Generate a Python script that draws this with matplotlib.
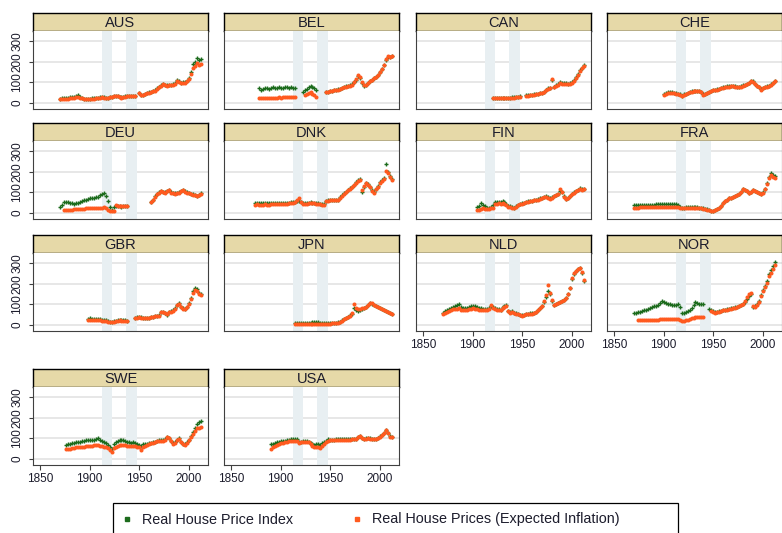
import numpy as np
import matplotlib
matplotlib.use("Agg")
import matplotlib.pyplot as plt
from matplotlib.lines import Line2D
from matplotlib.patches import Rectangle

plt.rcParams['font.family'] = ['Liberation Sans', 'DejaVu Sans']

N = None
# ---------------- data (sampled every 2 years) ----------------
AUS_start = 1870
AUS_green = [20, 22, 22, 24, 25, 27, 28, 30, 33, 36, 30, 24, 20, 20, 20,
             21, 22, 23, 25, 26, 28, 30, 28, 25, 26, 28, 30, 33, 35, 34,
             30, 27, 29, 31, 33, 34, 34, 34, 34, N, 46, 38, 40, 44, 48,
             52, 55, 58, 62, 70, 78, 85, 92, 88, 86, 88, 88, 90, 96, 112,
             104, 98, 100, 100, 108, 122, 152, 188, 200, 218, 208, 212]
AUS_orange = [18, 18, 19, 20, 20, 22, 23, 25, 28, 30, 26, 22, 18, 18, 18,
              19, 20, 21, 22, 23, 25, 27, 26, 24, 25, 27, 29, 31, 33, 32,
              29, 26, 28, 30, 31, 32, 32, 33, 33, N, 46, 37, 39, 43, 46,
              50, 53, 56, 60, 68, 76, 83, 90, 86, 84, 86, 86, 88, 94, 108,
              101, 95, 97, 97, 105, 118, 142, 172, 180, 192, 186, 190]

BEL_start = 1878
BEL_green = [70, 65, 68, 72, 70, 68, 72, 75, 70, 72, 75, 70, 72, 75, 78,
             72, 75, 72, 70, N, N, N, 55, 62, 68, 75, 80, 78, 72, 65,
             N, N, N, N, 55, 55, 58, 60, 62, 65, 66, 68, 72, 76, 80,
             82, 85, 90, 100, 112, 132, 122, 95, 80, 85, 95, 104, 112, 120, 128,
             138, 150, 165, 185, 210, 225, 222, 226]
BEL_orange = [22, 24, 25, 25, 24, 25, 26, 25, 26, 26, 27, 26, 27, 28, 28,
              27, 28, 28, 28, N, N, N, N, 40, 45, 50, 55, 45, 36, 30,
              N, N, N, N, 53, 54, 57, 59, 61, 64, 65, 67, 71, 75, 79,
              81, 84, 89, 100, 115, 136, 128, 102, 88, 88, 96, 104, 112, 120, 128,
              138, 150, 165, 185, 212, 226, 224, 228]

CAN_start = 1920
CAN_green = [25, 24, 24, 25, 25, 25, 24, 24, 25, 26, 27, 28, 29, 30, 31,
             N, N, 36, 37, 38, 40, 41, 43, 45, 48, 50, 55, 65, 70, 72,
             110, 78, 85, 90, 100, 96, 95, 96, 94, 96, 100, 110, 125, 142, 160,
             172, 184]
CAN_orange = [23, 22, 22, 23, 23, 23, 22, 22, 23, 24, 25, 26, 27, 28, 29,
              N, N, 34, 35, 36, 38, 39, 41, 43, 46, 48, 53, 62, 67, 70,
              114, 76, 82, 88, 97, 94, 92, 93, 91, 93, 97, 106, 120, 137, 155,
              168, 180]

CHE_start = 1900
CHE_green = [45, 48, 52, 55, 52, 50, 48, 45, 42, 32, 42, 45, 50, 54, 56,
             58, 58, 60, 58, 55, 42, 45, 50, 55, 58, 62, 64, 66, 68, 72,
             75, 78, 80, 80, 82, 82, 80, 78, 76, 80, 85, 88, 92, 98, 106,
             104, 92, 82, 76, 66, 72, 76, 80, 84, 90, 98, 105]
CHE_orange = [38, 42, 47, 50, 48, 46, 44, 42, 40, 35, 40, 44, 48, 52, 54,
              56, 57, 59, 57, 54, 40, 44, 49, 54, 57, 61, 63, 65, 67, 71,
              74, 77, 79, 79, 81, 81, 79, 77, 75, 79, 84, 87, 91, 97, 105,
              103, 91, 81, 75, 65, 71, 75, 79, 83, 89, 97, 104]

DEU_start = 1870
DEU_green = [28, 40, 52, 55, 52, 50, 47, 45, 46, 50, 55, 58, 62, 65, 68,
             70, 72, 74, 76, 78, 85, 90, 95, 82, 60, 30, 15, 28, 35, 33,
             32, 30, 32, 34, 35, N, N, N, N, N, N, N, N, N, N,
             N, 55, 65, 80, 92, 100, 105, 102, 100, 106, 112, 100, 96, 95, 97,
             100, 106, 110, 104, 100, 98, 94, 90, 86, 82, 88, 95]
DEU_orange = [N, N, 14, 15, 15, 15, 16, 17, 18, 19, 20, 20, 21, 22, 22,
              23, 24, 24, 25, 25, 26, 26, 27, 22, 15, 10, 8, 10, 40, 35,
              33, 32, 33, 34, 35, N, N, N, N, N, N, N, N, N, N,
              N, 54, 64, 79, 91, 99, 104, 101, 99, 105, 111, 99, 95, 94, 96,
              99, 105, 109, 103, 99, 97, 93, 89, 85, 81, 87, 94]

DNK_start = 1874
DNK_green = [50, 50, 48, 48, 47, 48, 47, 46, 47, 48, 48, 49, 48, 47, 48,
             49, 50, 50, 51, 52, 55, 58, 60, 55, 50, 46, 47, 50, 51, 50,
             50, 48, 47, 45, 45, 42, 60, 61, 62, 62, 62, 63, 65, 75, 85,
             95, 102, 112, 120, 128, 138, 148, 158, 165, 100, 128, 145, 140, 128, 110,
             100, 118, 130, 148, 158, 168, 238, 198, 178, 165]
DNK_orange = [40, 41, 40, 40, 40, 41, 40, 40, 41, 42, 42, 43, 42, 42, 43,
              44, 45, 46, 47, 49, 53, 62, 72, 55, 45, 42, 43, 46, 47, 46,
              46, 45, 44, 42, 40, 38, 58, 60, 61, 61, 61, 62, 64, 74, 84,
              94, 100, 110, 118, 126, 136, 146, 156, 162, 110, 132, 146, 138, 126, 105,
              98, 115, 128, 146, 156, 165, 205, 192, 174, 162]

FIN_start = 1904
FIN_green = [30, 35, 48, 40, 32, 25, 22, 30, 40, 52, 55, 55, 54, 56, 55,
             42, 35, 32, 28, 25, 32, 38, 42, 46, 50, 54, 56, 58, 60, 62,
             64, 66, 70, 74, 78, 80, 76, 70, 76, 82, 88, 94, 104, 100, 80,
             68, 74, 82, 92, 100, 106, 112, 120, 116, 118]
FIN_orange = [13, 16, 20, 22, 20, 18, 18, 22, 26, 42, 45, 46, 45, 46, 44,
              36, 30, 27, 25, 23, 30, 36, 41, 45, 49, 53, 55, 57, 59, 61,
              63, 65, 69, 73, 77, 79, 74, 68, 74, 80, 86, 92, 115, 100, 78,
              66, 72, 80, 90, 98, 104, 110, 116, 112, 114]

FRA_start = 1870
FRA_green = [38, 38, 38, 39, 39, 39, 40, 40, 40, 40, 40, 41, 41, 42, 42,
             42, 43, 43, 44, 45, 45, 45, 40, 28, 25, 26, 27, 28, 28, 27,
             28, 28, 27, 26, 24, 22, 20, 18, 14, 10, 10, 14, 20, 26, 34,
             46, 56, 64, 70, 73, 76, 80, 86, 92, 102, 116, 112, 104, 95, 102,
             110, 106, 100, 96, 92, 100, 118, 145, 175, 192, 182, 178]
FRA_orange = [26, 26, 26, 27, 27, 27, 27, 28, 28, 28, 28, 28, 28, 28, 28,
              28, 28, 28, 28, 28, 28, 28, 27, 25, 24, 24, 25, 26, 26, 25,
              26, 26, 25, 24, 22, 20, 18, 16, 13, 10, 10, 14, 20, 26, 34,
              46, 56, 64, 70, 73, 76, 80, 86, 92, 102, 116, 112, 104, 95, 102,
              110, 106, 100, 96, 92, 98, 115, 140, 168, 182, 176, 172]

GBR_start = 1898
GBR_green = [30, 31, 30, 30, 29, 28, 27, 26, 25, 24, 20, 16, 15, 18, 20,
             24, 26, 25, 24, 22, 20, N, N, N, 34, 36, 38, 36, 33, 32,
             34, 35, 37, 40, 43, 44, 46, 65, 64, 58, 50, 64, 66, 70, 80,
             98, 104, 88, 80, 76, 88, 104, 130, 165, 180, 175, 155, 148]
GBR_orange = [25, 26, 25, 25, 24, 23, 22, 21, 20, 19, 16, 13, 12, 15, 17,
              20, 22, 21, 20, 19, 18, N, N, N, 33, 35, 37, 35, 32, 31,
              33, 34, 36, 39, 42, 43, 45, 64, 63, 58, 54, 63, 65, 69, 79,
              97, 103, 87, 79, 75, 86, 102, 125, 155, 170, 165, 152, 145]

JPN_start = 1914
JPN_green = [8, 9, 10, 10, 10, 10, 10, 11, 11, 12, 12, 12, 12, 11, 10,
             9, 8, 8, 8, 8, 9, 10, 12, 16, 22, 28, 34, 40, 46, 55,
             80, 72, 66, 72, 76, 80, 86, 95, 106, 102, 96, 92, 88, 82, 76,
             70, 66, 62, 58, 54]
JPN_orange = [5, 5, 5, 5, 5, 5, 5, 5, 5, 6, 6, 6, 6, 6, 6,
              6, 6, 6, 6, 7, 8, 9, 11, 15, 21, 27, 33, 39, 45, 56,
              100, 80, 76, 78, 80, 82, 88, 97, 108, 104, 98, 93, 89, 83, 77,
              71, 66, 62, 58, 54]

NLD_start = 1870
NLD_green = [60, 66, 72, 78, 80, 88, 92, 98, 102, 88, 80, 82, 84, 88, 90,
             94, 90, 86, 82, 80, 78, 76, 75, 80, 90, 85, 82, 78, 75, 72,
             85, 92, 96, 68, 62, 66, 60, 56, 55, 50, 46, 48, 52, 55, 56,
             56, 58, 62, 70, 80, 90, 112, 135, 165, 150, 118, 98, 100, 104, 110,
             116, 122, 132, 150, 180, 225, 250, 262, 270, 276, 255, 215]
NLD_orange = [52, 58, 64, 68, 70, 75, 76, 78, 80, 74, 70, 72, 74, 76, 78,
              80, 78, 76, 74, 72, 72, 70, 70, 78, 96, 82, 78, 74, 72, 70,
              80, 86, 92, 66, 60, 64, 58, 54, 53, 48, 45, 47, 51, 54, 55,
              55, 57, 61, 70, 80, 90, 115, 145, 195, 155, 120, 98, 100, 104, 110,
              116, 122, 132, 150, 180, 228, 252, 264, 272, 278, 258, 218]

NOR_start = 1870
NOR_green = [58, 60, 62, 65, 66, 70, 74, 78, 82, 86, 90, 94, 98, 104, 118,
             110, 106, 103, 100, 98, 96, 98, 100, 86, 58, 60, 64, 68, 72, 84,
             98, 110, 106, 102, 100, 100, N, N, 75, 74, 66, 64, 65, 66, 68,
             72, 74, 76, 78, 80, 82, 85, 88, 92, 96, 100, 112, 128, 142, 148,
             88, 90, 100, 115, 145, 172, 190, 212, 250, 268, 285, 305]
NOR_orange = [N, N, 23, 24, 24, 24, 25, 25, 25, 26, 26, 26, 26, 27, 27,
              27, 27, 28, 28, 28, 28, 28, 28, 24, 20, 20, 22, 26, 30, 32,
              34, 36, 38, 39, 40, 40, N, N, N, 68, 62, 60, 62, 64, 66,
              70, 72, 74, 76, 78, 80, 83, 86, 90, 95, 100, 115, 135, 150, 155,
              92, 88, 98, 112, 140, 165, 182, 205, 238, 255, 272, 292]

SWE_start = 1876
SWE_green = [68, 70, 72, 75, 78, 80, 82, 84, 86, 88, 90, 90, 90, 92, 94,
             96, 100, 92, 88, 84, 76, 68, 58, 48, 72, 80, 86, 90, 92, 90,
             88, 84, 80, 78, 80, 78, 72, 66, 62, 70, 72, 74, 76, 78, 80,
             84, 88, 90, 90, 90, 96, 108, 102, 88, 76, 80, 92, 100, 82, 72,
             70, 80, 94, 110, 130, 152, 170, 180, 186]
SWE_orange = [46, 48, 50, 52, 54, 56, 57, 58, 59, 60, 61, 62, 62, 64, 65,
              66, 68, 64, 62, 60, 58, 52, 44, 32, 52, 58, 62, 65, 66, 66,
              65, 64, 64, 63, 62, 62, 60, 56, 42, 58, 64, 68, 72, 75, 78,
              82, 86, 88, 88, 88, 94, 106, 100, 86, 74, 78, 90, 98, 80, 70,
              68, 78, 92, 106, 122, 138, 150, 152, 155]

USA_start = 1890
USA_green = [72, 74, 76, 80, 82, 85, 86, 88, 90, 92, 95, 97, 98, 95, 82,
             84, 86, 88, 88, 84, 76, 70, 68, 70, 74, 68, 75, 82, 88, 95,
             92, 93, 94, 95, 95, 95, 95, 95, 95, 95, 95, 96, 97, 99, 106,
             110, 100, 98, 100, 101, 100, 99, 98, 98, 102, 110, 118, 128, 142, 128,
             110, 106]
USA_orange = [50, 56, 62, 66, 72, 75, 77, 80, 82, 85, 88, 88, 89, 88, 78,
              80, 82, 84, 84, 80, 72, 64, 60, 58, 60, 55, 62, 72, 80, 88,
              90, 92, 93, 94, 94, 94, 94, 94, 94, 94, 94, 95, 96, 98, 106,
              112, 100, 97, 99, 100, 99, 98, 97, 97, 101, 108, 116, 126, 140, 126,
              108, 104]

countries = ["AUS", "BEL", "CAN", "CHE", "DEU", "DNK", "FIN", "FRA",
             "GBR", "JPN", "NLD", "NOR", "SWE", "USA"]
series = {
    "AUS": (AUS_start, AUS_green, AUS_orange), "BEL": (BEL_start, BEL_green, BEL_orange),
    "CAN": (CAN_start, CAN_green, CAN_orange), "CHE": (CHE_start, CHE_green, CHE_orange),
    "DEU": (DEU_start, DEU_green, DEU_orange), "DNK": (DNK_start, DNK_green, DNK_orange),
    "FIN": (FIN_start, FIN_green, FIN_orange), "FRA": (FRA_start, FRA_green, FRA_orange),
    "GBR": (GBR_start, GBR_green, GBR_orange), "JPN": (JPN_start, JPN_green, JPN_orange),
    "NLD": (NLD_start, NLD_green, NLD_orange), "NOR": (NOR_start, NOR_green, NOR_orange),
    "SWE": (SWE_start, SWE_green, SWE_orange), "USA": (USA_start, USA_green, USA_orange),
}
war_periods = [(1912, 1922), (1937, 1948)]
y_ticks = [0, 100, 200, 300]
x_ticks = [1850, 1900, 1950, 2000]
legend_labels = ["Real House Price Index", "Real House Prices (Expected Inflation)"]

# ---------------- styling / layout ----------------
GREEN = "#1c6b1c"
ORANGE = "#ff5a1f"
TEXT = "#1c1c2c"
W, H = 782, 533
fig = plt.figure(figsize=(W / 100, H / 100), dpi=100)
fig.patch.set_facecolor("white")

col_left = [33, 224, 416, 607]
row_top = [13, 123, 235, 369]
pw, hh, ph = 175, 18, 78
with_xaxis = {"NLD", "NOR", "SWE", "USA"}


def frect(x, ytop, w, h):
    return [x / W, 1 - (ytop + h) / H, w / W, h / H]


for i, c in enumerate(countries):
    r, col = divmod(i, 4)
    x0, y0 = col_left[col], row_top[r]
    # header strip
    axh = fig.add_axes(frect(x0, y0, pw, hh))
    axh.set_facecolor("#e6d9a8")
    axh.set_xticks([]); axh.set_yticks([])
    for s in axh.spines.values():
        s.set_color("black"); s.set_linewidth(1.0)
    axh.text(0.5, 0.45, c, transform=axh.transAxes, ha="center", va="center",
             fontsize=10.5, color=TEXT)

    ax = fig.add_axes(frect(x0, y0 + hh, pw, ph))
    ax.set_xlim(1843, 2019)
    ax.set_ylim(-30, 350)
    for v in y_ticks:
        ax.axhline(v, color="#e0e0e0", lw=1.1, zorder=0.5)
    for a, b in war_periods:
        ax.axvspan(a, b, color="#e8eff2", lw=0, zorder=1)
    start, g, o = series[c]
    g = np.array([np.nan if v is None else v for v in g], dtype=float)
    o = np.array([np.nan if v is None else v for v in o], dtype=float)
    yrs_g = start + 2 * np.arange(len(g))
    yrs_o = start + 2 * np.arange(len(o))
    ax.plot(yrs_g, g, ls="none", marker="+", ms=3.4, mew=1.0, color=GREEN, zorder=3)
    ax.plot(yrs_o, o, ls="none", marker="o", ms=2.9, mew=0, color=ORANGE, zorder=4)

    for s in ax.spines.values():
        s.set_color("#404040"); s.set_linewidth(0.8)
    ax.spines["top"].set_visible(False)

    if col == 0:
        ax.set_yticks(y_ticks)
        ax.set_yticklabels([str(v) for v in y_ticks], rotation=90, va="center")
        ax.tick_params(axis="y", length=3, width=0.8, color="#404040", pad=4,
                       labelsize=8.5, labelcolor=TEXT)
    else:
        ax.set_yticks([])
    if c in with_xaxis:
        ax.set_xticks(x_ticks)
        ax.tick_params(axis="x", length=3.5, width=0.8, color="#404040", pad=2,
                       labelsize=8.5, labelcolor=TEXT)
    else:
        ax.set_xticks([])

# ---------------- legend ----------------
fig.patches.append(Rectangle((113 / W, 1 - 545 / H), (678 - 113) / W, 42 / H,
                             transform=fig.transFigure, fill=False,
                             ec="black", lw=0.9))
fig.add_artist(Line2D([127 / W], [1 - 518.5 / H], marker="s", ms=2.6, color=GREEN,
                      ls="none", transform=fig.transFigure))
fig.text(142 / W, 1 - 519.5 / H, legend_labels[0], fontsize=10.4, va="center",
         ha="left", color=TEXT)
fig.add_artist(Line2D([357 / W], [1 - 518.5 / H], marker="s", ms=2.6, color=ORANGE,
                      ls="none", transform=fig.transFigure))
fig.text(372 / W, 1 - 519.5 / H, legend_labels[1], fontsize=10.4, va="center",
         ha="left", color=TEXT)

fig.savefig("out.png", dpi=100, facecolor="white")
